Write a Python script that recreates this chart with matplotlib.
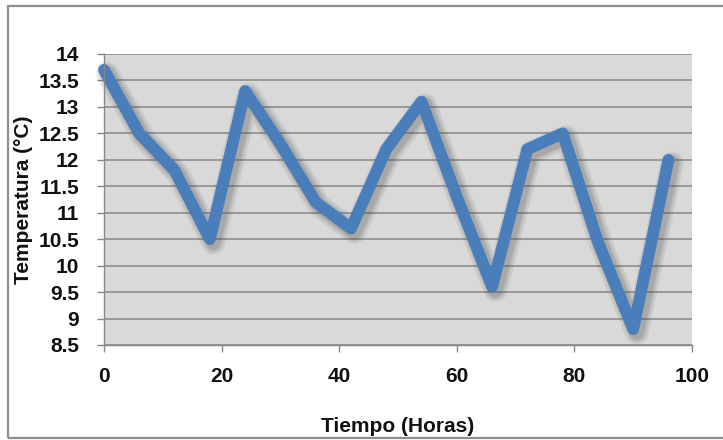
import matplotlib.pyplot as plt
import matplotlib.patheffects as pe
from matplotlib.patches import Rectangle

# Temperatura medida cada 6 horas
horas = [0, 6, 12, 18, 24, 30, 36, 42, 48, 54, 60, 66, 72, 78, 84, 90, 96]
temperatura = [13.7, 12.5, 11.8, 10.5, 13.3, 12.3, 11.2, 10.7, 12.2, 13.1,
               11.3, 9.6, 12.2, 12.5, 10.45, 8.8, 12.0]
x_ticks = [0, 20, 40, 60, 80, 100]
y_ticks = [8.5, 9, 9.5, 10, 10.5, 11, 11.5, 12, 12.5, 13, 13.5, 14]

plt.rcParams['font.family'] = ['Liberation Sans', 'DejaVu Sans']

fig = plt.figure(figsize=(7.23, 4.40), dpi=100)
ax = fig.add_axes([104 / 723, 1 - 345 / 440, (692 - 104) / 723, (345 - 54) / 440])

# marco exterior del gráfico
fig.patches.append(Rectangle((7.5 / 723, 1 - 438 / 440), 1.1, (438 - 6) / 440,
                             transform=fig.transFigure, fill=False,
                             edgecolor='#8e8e8e', linewidth=1.6))

ax.set_facecolor('#d9d9d9')
ax.set_xlim(0, 100)
ax.set_ylim(8.5, 14)
ax.set_xticks(x_ticks)
ax.set_yticks(y_ticks)
ax.set_yticklabels([f'{v:g}' for v in y_ticks])
ax.grid(axis='y', color='#878787', linewidth=1.1)
ax.set_axisbelow(True)

for side in ['top', 'right']:
    ax.spines[side].set_visible(False)
for side in ['left', 'bottom']:
    ax.spines[side].set_color('#878787')
    ax.spines[side].set_linewidth(1.0)
ax.tick_params(axis='both', direction='out', length=5, width=1.0, color='#878787',
               labelsize=15, labelcolor='#111111')
ax.tick_params(axis='x', pad=11)
ax.tick_params(axis='y', pad=13)
for lbl in ax.get_xticklabels() + ax.get_yticklabels():
    lbl.set_fontweight('bold')

# sombra difusa debajo de la línea
shadow = [pe.SimpleLineShadow(offset=(2.5, -2.5), shadow_color='#444444',
                              alpha=0.09, linewidth=lw)
          for lw in (17, 14, 11.5, 10)]
ax.plot(horas, temperatura, color='#4a7ebb', linewidth=8.5,
        solid_joinstyle='round', solid_capstyle='round',
        path_effects=shadow + [pe.Normal()], clip_on=False)

ax.set_xlabel('Tiempo (Horas)', fontsize=15, fontweight='bold', labelpad=22,
              color='#111111')
ax.set_ylabel('Temperatura (°C)', fontsize=15, fontweight='bold', labelpad=4,
              color='#111111')

fig.savefig('out.png', dpi=100)
